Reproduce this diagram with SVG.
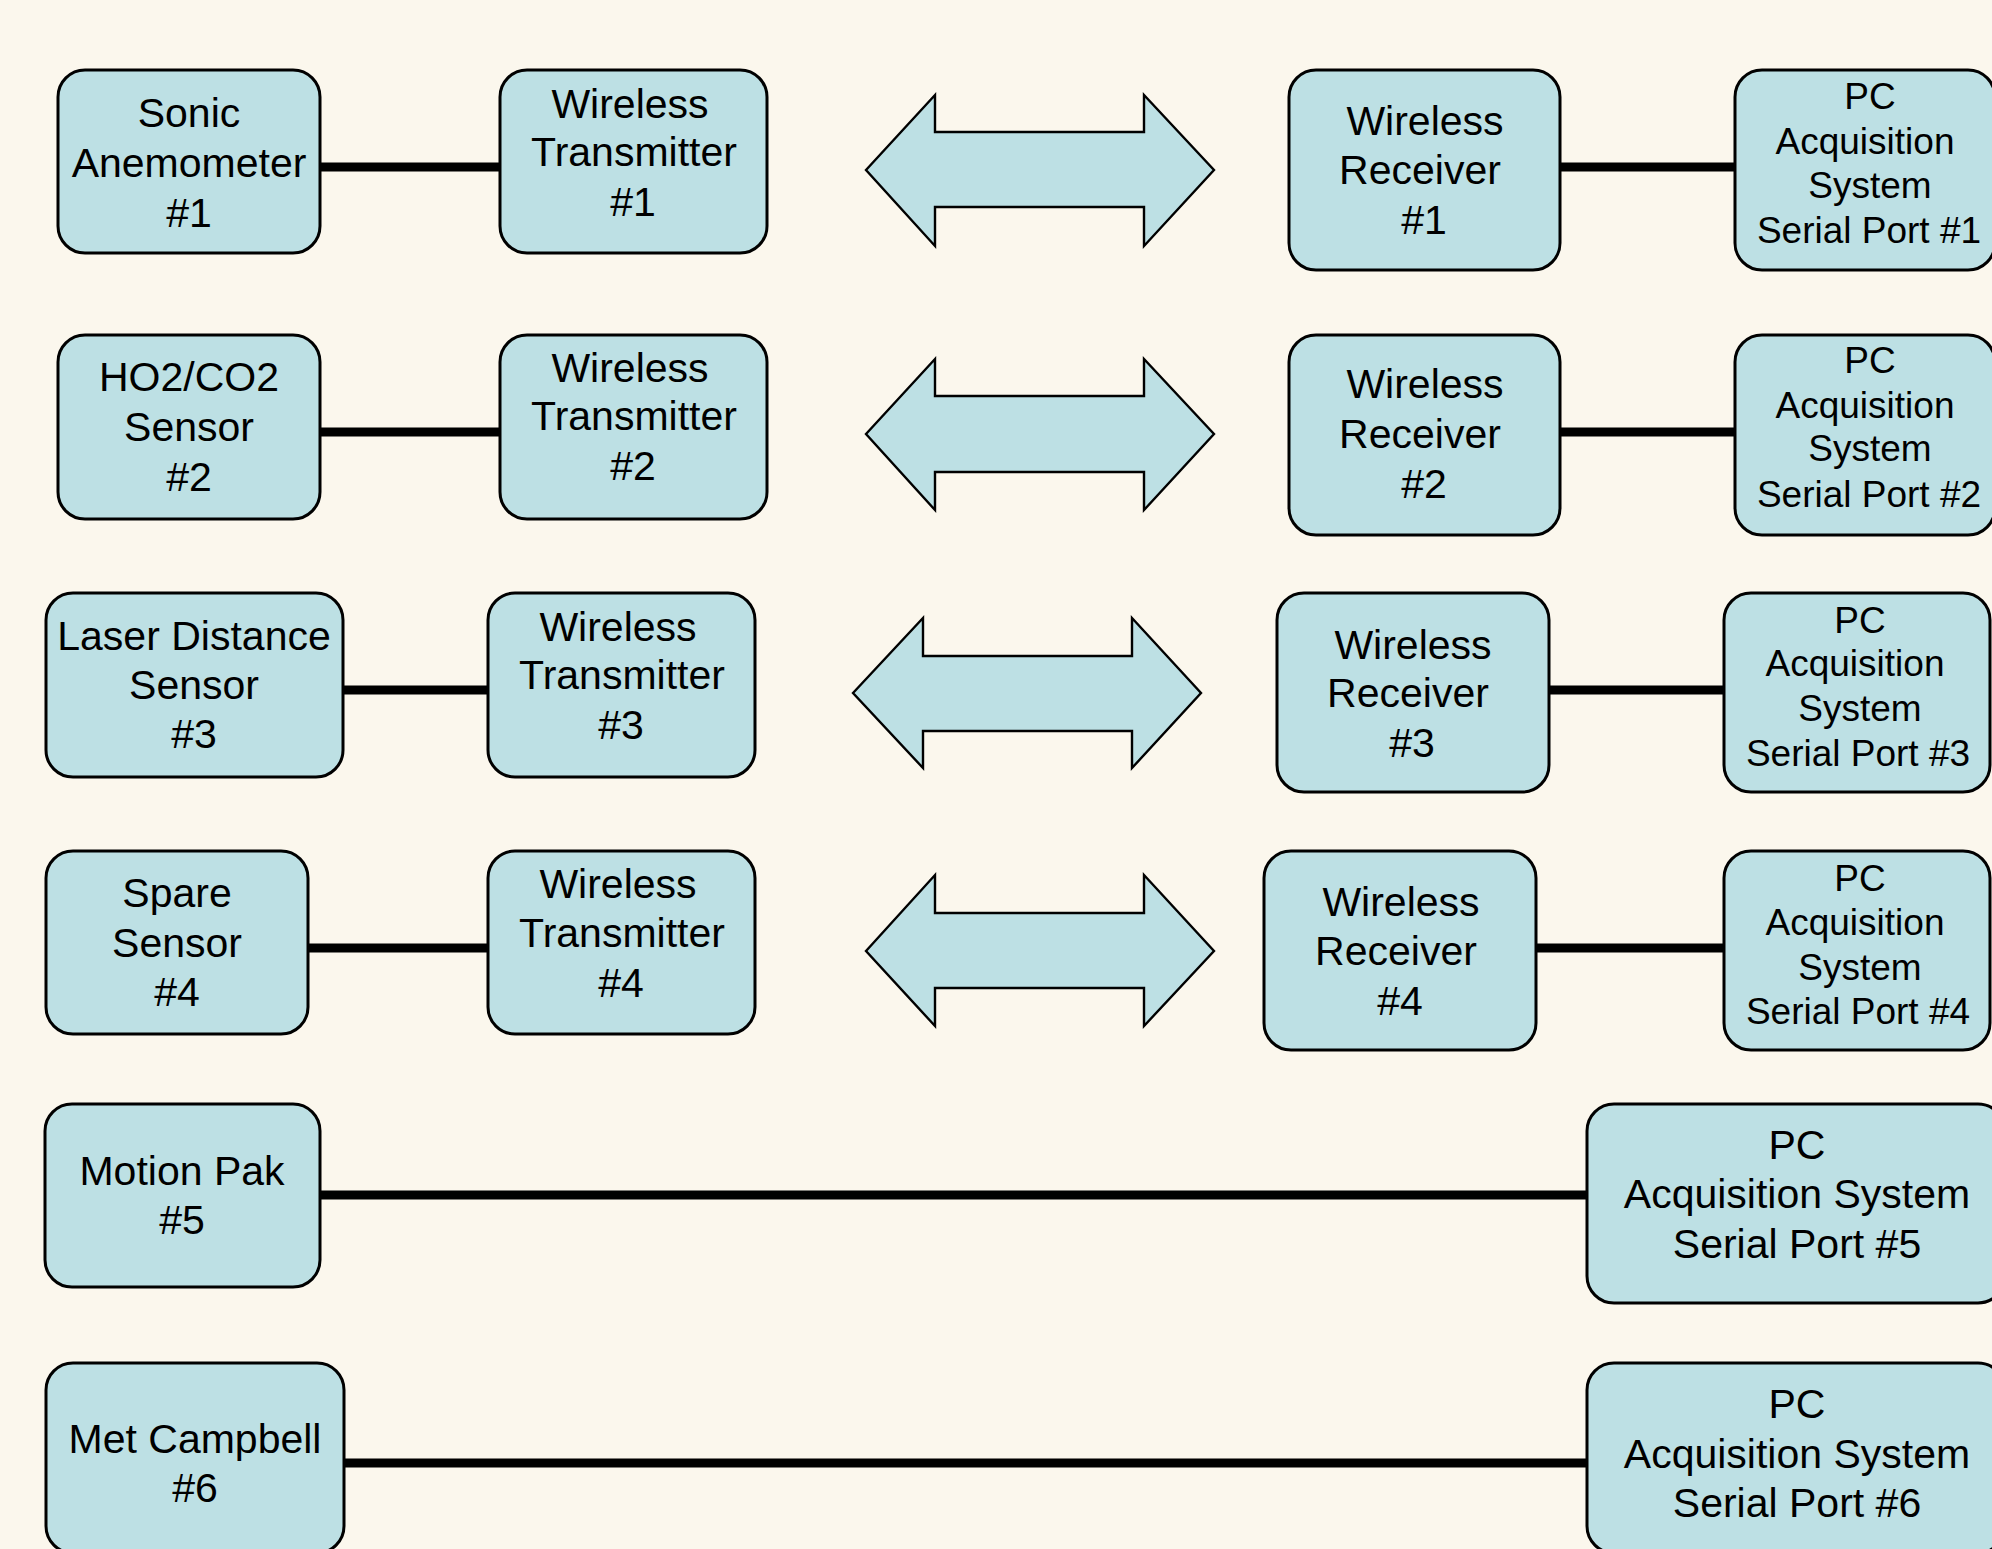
<svg xmlns="http://www.w3.org/2000/svg" width="1992" height="1549" viewBox="0 0 1992 1549">
<style>
.bx{fill:#bde0e4;stroke:#000;stroke-width:3}
.ar{fill:#bde0e4;stroke:#000;stroke-width:2.4;stroke-linejoin:miter}
.t{font-family:"Liberation Sans",Arial,sans-serif;font-size:41px;fill:#000;text-anchor:middle}
.s{font-size:37px}
.cn{stroke:#000;stroke-width:9;fill:none}
</style>
<rect width="1992" height="1549" fill="#fbf7ed"/>
<g id="connectors">
<line class="cn" x1="320" y1="167" x2="500" y2="167"/>
<line class="cn" x1="1560" y1="167" x2="1735" y2="167"/>
<line class="cn" x1="320" y1="432" x2="500" y2="432"/>
<line class="cn" x1="1560" y1="432" x2="1735" y2="432"/>
<line class="cn" x1="343" y1="690" x2="488" y2="690"/>
<line class="cn" x1="1549" y1="690" x2="1724" y2="690"/>
<line class="cn" x1="308" y1="948" x2="488" y2="948"/>
<line class="cn" x1="1536" y1="948" x2="1724" y2="948"/>
<line class="cn" x1="320" y1="1195" x2="1587" y2="1195"/>
<line class="cn" x1="344" y1="1463" x2="1587" y2="1463"/>
<path id="arrow1" class="ar" d="M866,170 L935,95 L935,132 L1144,132 L1144,95 L1214,170 L1144,246 L1144,207 L935,207 L935,246 Z"/>
<path id="arrow2" class="ar" d="M866,434 L935,359 L935,396 L1144,396 L1144,359 L1214,434 L1144,510 L1144,472 L935,472 L935,510 Z"/>
<path id="arrow3" class="ar" d="M853,693 L923,618 L923,656 L1132,656 L1132,618 L1201,693 L1132,768 L1132,731 L923,731 L923,768 Z"/>
<path id="arrow4" class="ar" d="M866,951 L935,875 L935,913 L1144,913 L1144,875 L1214,951 L1144,1026 L1144,988 L935,988 L935,1026 Z"/>
</g>
<g id="sonic"><rect class="bx" x="58" y="70" width="262" height="183" rx="27"/>
<text class="t" x="189" y="127">Sonic</text><text class="t" x="189" y="177">Anemometer</text><text class="t" x="189" y="227">#1</text></g>
<g id="tx1"><rect class="bx" x="500" y="70" width="267" height="183" rx="27"/>
<text class="t" x="630" y="118">Wireless</text><text class="t" x="634" y="166">Transmitter</text><text class="t" x="633" y="216">#1</text></g>
<g id="rx1"><rect class="bx" x="1289" y="70" width="271" height="200" rx="27"/>
<text class="t" x="1425" y="135">Wireless</text><text class="t" x="1420" y="184">Receiver</text><text class="t" x="1424" y="234">#1</text></g>
<g id="pc1"><rect class="bx" x="1735" y="70" width="260" height="200" rx="27"/>
<text class="t s" x="1870" y="109">PC</text><text class="t s" x="1865" y="154">Acquisition</text><text class="t s" x="1870" y="198">System</text><text class="t s" x="1869" y="243">Serial Port #1</text></g>

<g id="ho2"><rect class="bx" x="58" y="335" width="262" height="184" rx="27"/>
<text class="t" x="189" y="391">HO2/CO2</text><text class="t" x="189" y="441">Sensor</text><text class="t" x="189" y="491">#2</text></g>
<g id="tx2"><rect class="bx" x="500" y="335" width="267" height="184" rx="27"/>
<text class="t" x="630" y="382">Wireless</text><text class="t" x="634" y="430">Transmitter</text><text class="t" x="633" y="480">#2</text></g>
<g id="rx2"><rect class="bx" x="1289" y="335" width="271" height="200" rx="27"/>
<text class="t" x="1425" y="398">Wireless</text><text class="t" x="1420" y="448">Receiver</text><text class="t" x="1424" y="498">#2</text></g>
<g id="pc2"><rect class="bx" x="1735" y="335" width="260" height="200" rx="27"/>
<text class="t s" x="1870" y="373">PC</text><text class="t s" x="1865" y="418">Acquisition</text><text class="t s" x="1870" y="461">System</text><text class="t s" x="1869" y="507">Serial Port #2</text></g>

<g id="laser"><rect class="bx" x="46" y="593" width="297" height="184" rx="27"/>
<text class="t" x="194" y="650">Laser Distance</text><text class="t" x="194" y="699">Sensor</text><text class="t" x="194" y="748">#3</text></g>
<g id="tx3"><rect class="bx" x="488" y="593" width="267" height="184" rx="27"/>
<text class="t" x="618" y="641">Wireless</text><text class="t" x="622" y="689">Transmitter</text><text class="t" x="621" y="739">#3</text></g>
<g id="rx3"><rect class="bx" x="1277" y="593" width="272" height="199" rx="27"/>
<text class="t" x="1413" y="659">Wireless</text><text class="t" x="1408" y="707">Receiver</text><text class="t" x="1412" y="757">#3</text></g>
<g id="pc3"><rect class="bx" x="1724" y="593" width="266" height="199" rx="27"/>
<text class="t s" x="1860" y="633">PC</text><text class="t s" x="1855" y="676">Acquisition</text><text class="t s" x="1860" y="721">System</text><text class="t s" x="1858" y="766">Serial Port #3</text></g>

<g id="spare"><rect class="bx" x="46" y="851" width="262" height="183" rx="27"/>
<text class="t" x="177" y="907">Spare</text><text class="t" x="177" y="957">Sensor</text><text class="t" x="177" y="1006">#4</text></g>
<g id="tx4"><rect class="bx" x="488" y="851" width="267" height="183" rx="27"/>
<text class="t" x="618" y="898">Wireless</text><text class="t" x="622" y="947">Transmitter</text><text class="t" x="621" y="997">#4</text></g>
<g id="rx4"><rect class="bx" x="1264" y="851" width="272" height="199" rx="27"/>
<text class="t" x="1401" y="916">Wireless</text><text class="t" x="1396" y="965">Receiver</text><text class="t" x="1400" y="1015">#4</text></g>
<g id="pc4"><rect class="bx" x="1724" y="851" width="266" height="199" rx="27"/>
<text class="t s" x="1860" y="891">PC</text><text class="t s" x="1855" y="935">Acquisition</text><text class="t s" x="1860" y="980">System</text><text class="t s" x="1858" y="1024">Serial Port #4</text></g>

<g id="motionpak"><rect class="bx" x="45" y="1104" width="275" height="183" rx="27"/>
<text class="t" x="182" y="1185">Motion Pak</text><text class="t" x="182" y="1234">#5</text></g>
<g id="pc5"><rect class="bx" x="1587" y="1104" width="418" height="199" rx="27"/>
<text class="t" x="1797" y="1159">PC</text><text class="t" x="1797" y="1208">Acquisition System</text><text class="t" x="1797" y="1258">Serial Port #5</text></g>

<g id="metcampbell"><rect class="bx" x="46" y="1363" width="298" height="190" rx="27"/>
<text class="t" x="195" y="1453">Met Campbell</text><text class="t" x="195" y="1502">#6</text></g>
<g id="pc6"><rect class="bx" x="1587" y="1363" width="418" height="190" rx="27"/>
<text class="t" x="1797" y="1418">PC</text><text class="t" x="1797" y="1468">Acquisition System</text><text class="t" x="1797" y="1517">Serial Port #6</text></g>
</svg>
